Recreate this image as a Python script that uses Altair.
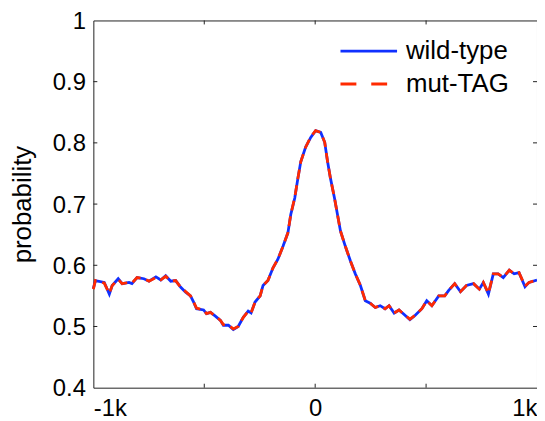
import altair as alt
import pandas as pd

positions = [-1000, -991, -951, -928, -915, -888, -870, -839, -826, -803, -772, -749, -718, -696,
             -674, -651, -629, -606, -584, -562, -548, -535, -503, -490, -472, -450, -427, -414,
             -391, -369, -347, -324, -302, -289, -271, -248, -235, -213, -190, -168, -145, -123,
             -110, -92, -78, -65, -43, -20, 2, 25, 43, 56, 69, 87, 114, 136, 159, 181, 204, 226,
             248, 271, 293, 315, 333, 356, 378, 400, 427, 450, 481, 503, 526, 557, 584, 602, 629,
             655, 682, 714, 740, 758, 781, 803, 825, 848, 875, 897, 919, 946, 964, 1000]

wild_type = [0.562, 0.575, 0.572, 0.553, 0.567, 0.578, 0.570, 0.572, 0.570, 0.580, 0.578, 0.574,
             0.581, 0.576, 0.583, 0.574, 0.575, 0.564, 0.556, 0.550, 0.540, 0.529, 0.527, 0.521,
             0.523, 0.517, 0.510, 0.502, 0.502, 0.495, 0.500, 0.515, 0.525, 0.522, 0.540, 0.550,
             0.567, 0.575, 0.596, 0.610, 0.631, 0.653, 0.683, 0.710, 0.742, 0.769, 0.793, 0.809,
             0.820, 0.817, 0.801, 0.769, 0.742, 0.710, 0.656, 0.631, 0.607, 0.586, 0.567, 0.542,
             0.538, 0.531, 0.534, 0.529, 0.534, 0.522, 0.527, 0.520, 0.511, 0.518, 0.529, 0.542,
             0.534, 0.550, 0.550, 0.559, 0.570, 0.557, 0.567, 0.570, 0.561, 0.572, 0.553, 0.586,
             0.586, 0.580, 0.592, 0.586, 0.588, 0.565, 0.572, 0.576]

mut_tag = [0.561, 0.575, 0.571, 0.554, 0.567, 0.577, 0.570, 0.572, 0.571, 0.580, 0.578, 0.574,
           0.580, 0.576, 0.582, 0.574, 0.575, 0.564, 0.557, 0.550, 0.540, 0.530, 0.527, 0.521,
           0.523, 0.517, 0.510, 0.503, 0.502, 0.496, 0.500, 0.515, 0.525, 0.522, 0.540, 0.550,
           0.567, 0.575, 0.596, 0.610, 0.631, 0.653, 0.683, 0.711, 0.742, 0.769, 0.793, 0.810,
           0.820, 0.817, 0.801, 0.769, 0.742, 0.710, 0.656, 0.631, 0.607, 0.586, 0.567, 0.542,
           0.538, 0.531, 0.534, 0.529, 0.534, 0.522, 0.527, 0.520, 0.512, 0.518, 0.529, 0.542,
           0.534, 0.550, 0.550, 0.559, 0.570, 0.557, 0.567, 0.570, 0.561, 0.572, 0.554, 0.586,
           0.586, 0.580, 0.592, 0.586, 0.588, 0.566, 0.572, 0.576]

series_names = ["wild-type", "mut-TAG"]
x_tick_values = [-500, 0, 500]
y_tick_values = [0.5, 0.6, 0.7, 0.8, 0.9]
y_label_values = [0.4, 0.5, 0.6, 0.7, 0.8, 0.9, 1.0]
x_label_values = [-1000, 0, 1000]

BLUE = "#1030ff"
RED = "#ff2a00"
FONT = "Liberation Sans"
FS = 24
LFS = 26
W, H = 447, 370

wt_df = pd.DataFrame({"pos": positions, "prob": wild_type})
mut_df = pd.DataFrame({"pos": positions, "prob": mut_tag})
xt_df = pd.DataFrame({"pos": x_tick_values})
yt_df = pd.DataFrame({"prob": y_tick_values})
leg_wt = pd.DataFrame({"series": [series_names[0]]})
leg_mut = pd.DataFrame({"series": [series_names[1]]})

xscale = alt.Scale(domain=[-1000, 1000], nice=False, zero=False)
yscale = alt.Scale(domain=[0.4, 1.0], nice=False, zero=False)

x_enc = alt.X("pos:Q", scale=xscale, axis=alt.Axis(
    values=x_label_values,
    labelExpr="datum.value == 0 ? '0' : (datum.value < 0 ? '-1k' : '1k')",
    ticks=False, domain=False, grid=False, labelFlush=True, labelPadding=9,
    title=None))
y_enc = alt.Y("prob:Q", scale=yscale, axis=alt.Axis(
    values=y_label_values, format=".1~f", ticks=False, domain=False, grid=False,
    labelPadding=8, labelOffset=1, title="probability", titlePadding=17))

wt_line = alt.Chart(wt_df).mark_line(color=BLUE, strokeWidth=2.8).encode(x=x_enc, y=y_enc)
mut_line = alt.Chart(mut_df).mark_line(color=RED, strokeWidth=2.8, strokeDash=[10, 6]).encode(
    x="pos:Q", y="prob:Q")

tick_style = dict(color="#222222", strokeWidth=1)
bottom_ticks = alt.Chart(xt_df).mark_rule(**tick_style).encode(
    x="pos:Q", y=alt.value(H), y2=alt.value(H - 4))
top_ticks = alt.Chart(xt_df).mark_rule(**tick_style).encode(
    x="pos:Q", y=alt.value(0), y2=alt.value(4))
left_ticks = alt.Chart(yt_df).mark_rule(**tick_style).encode(
    y="prob:Q", x=alt.value(0), x2=alt.value(4))
right_ticks = alt.Chart(yt_df).mark_rule(**tick_style).encode(
    y="prob:Q", x=alt.value(W), x2=alt.value(W - 4))

leg_line_wt = alt.Chart(leg_wt).mark_rule(color=BLUE, strokeWidth=2.8).encode(
    x=alt.value(249), x2=alt.value(306), y=alt.value(31))
leg_line_mut = alt.Chart(leg_mut).mark_rule(color=RED, strokeWidth=2.8, strokeDash=[16, 15]).encode(
    x=alt.value(249), x2=alt.value(297), y=alt.value(64))
leg_text_wt = alt.Chart(leg_wt).mark_text(align="left", baseline="middle", fontSize=LFS, font=FONT,
                                          color="black").encode(
    x=alt.value(315), y=alt.value(31), text="series:N")
leg_text_mut = alt.Chart(leg_mut).mark_text(align="left", baseline="middle", fontSize=LFS, font=FONT,
                                            color="black").encode(
    x=alt.value(315), y=alt.value(64), text="series:N")

chart = alt.layer(
    wt_line, mut_line, bottom_ticks, top_ticks, left_ticks, right_ticks,
    leg_line_wt, leg_line_mut, leg_text_wt, leg_text_mut
).properties(
    width=W, height=H,
    autosize=alt.AutoSizeParams(type="none"),
    padding={"left": 86, "top": 11, "right": 0, "bottom": 32},
).configure_view(
    stroke="#222222", strokeWidth=1
).configure_axis(
    labelFont=FONT, labelFontSize=FS, labelColor="black",
    titleFont=FONT, titleFontSize=LFS, titleColor="black", titleFontWeight="normal"
)

chart.save("out.html", embed_options={"renderer": "svg", "actions": False})
